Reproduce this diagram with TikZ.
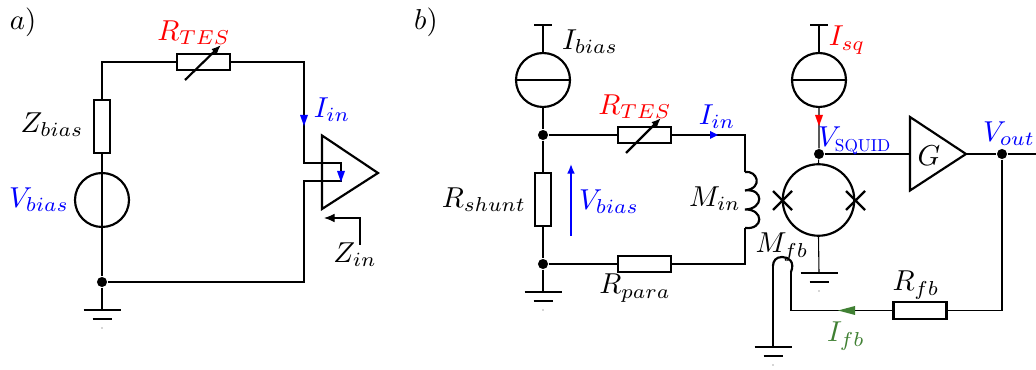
\documentclass[tikz,border=0pt]{standalone}
\usepackage{graphicx}
\usetikzlibrary{arrows.meta}
\definecolor{fbgreen}{rgb}{0.25,0.5,0.2}
\tikzset{
  x=0.4167pt,y=-0.4167pt,
  wire/.style={line width=0.45pt,line join=miter},
  comp/.style={line width=0.9pt},
  resbox/.style={draw,line width=0.9pt,fill=white,inner sep=0,minimum width=22.1pt,minimum height=7pt},
  vresbox/.style={draw,line width=0.9pt,inner sep=0,minimum width=7pt,minimum height=22.1pt},
  srccirc/.style={draw,line width=0.9pt,circle,inner sep=0,minimum size=22.5pt},
  squidcirc/.style={draw,line width=0.9pt,circle,inner sep=0,minimum size=29.8pt},
  junction/.style={circle,fill=black,inner sep=0,minimum size=4.2pt},
  gnd/.style={line width=0.9pt},
  lab/.style={inner sep=0,outer sep=0},
  tip/.style={-{Latex[length=4pt,width=3.2pt]}},
}
\newcommand{\tx}[1]{\scalebox{1.2}{$#1$}}
\newcommand{\gndsym}[2]{%
  \draw[gnd] (#1-18.5,#2) -- (#1+18.5,#2);
  \draw[gnd] (#1-9.5,#2+9) -- (#1+9.5,#2+9);
  \fill[black!70] (#1,#2+18) circle (0.25pt);
}
\begin{document}
\begin{tikzpicture}
\useasboundingbox (0,0) rectangle (1036,370);
% ---------- panel a
\node[lab] (la) at (23,22) {\tx{a)}};
\node[resbox] (rtesa) at (203.5,62) {};
\node[vresbox] (zb) at (102,126.5) {};
\node[srccirc] (vb) at (102,200) {};
\node[junction] (ja) at (102,282) {};
\coordinate (gnda) at (102,310);
\coordinate (tl) at (102,62);
\coordinate (tr) at (304,62);
\coordinate (br) at (304,282);
\coordinate (ampa1) at (322,135.5);
\coordinate (ampa2) at (322,209);
\coordinate (ampa3) at (378,173);
\draw[wire] (zb.north) -- (tl) -- (rtesa.west);
\draw[wire] (rtesa.east) -- (tr) -- (304,163) -- (341,163) -- (341,181) -- (304,181) -- (br) -- (ja);
\draw[wire] (zb.south) -- (vb.north);
\draw[wire] (vb.north) -- (vb.south);
\draw[wire] (vb.south) -- (ja) -- (gnda);
\gndsym{102}{310}
\draw[comp,line join=miter] (ampa1) -- (ampa3) -- (ampa2) -- cycle;
\draw[comp,tip] (185,80) -- (221,45);
\fill[blue] (300,115) -- (308,115) -- (304,126) -- cycle;
\fill[blue] (337,171) -- (345,171) -- (341,182) -- cycle;
\coordinate (zi1) at (360,245);
\coordinate (zi2) at (360,218);
\coordinate (zi3) at (324,218);
\draw[wire,-{Latex[length=4.4pt,width=3.6pt]}] (zi1) -- (zi2) -- (zi3);
\node[lab,red] (l1) at (194,33) {\tx{R_{TES}}};
\node[lab,blue] (l2) at (332,110) {\tx{I_{in}}};
\node[lab] (l3) at (52,125) {\tx{Z_{bias}}};
\node[lab,blue] (l4) at (39,200) {\tx{V_{bias}}};
\node[lab] (l5) at (355,255) {\tx{Z_{in}}};
% ---------- panel b
\node[lab] (lb) at (426,22) {\tx{b)}};
\node[srccirc] (ib) at (543,80) {};
\node[junction] (j1) at (543,135) {};
\node[junction] (j2) at (543,264) {};
\node[vresbox] (rs) at (543,199.5) {};
\node[resbox] (rtesb) at (644.5,135) {};
\node[resbox] (rp) at (644.5,264) {};
\coordinate (lt) at (745,172);
\coordinate (lb1) at (745,228);
\draw[wire] (543,25) -- (ib.north);
\draw[comp] (534,25) -- (552,25);
\draw[wire] (ib.west) -- (ib.east);
\draw[wire] (ib.south) -- (j1) -- (rs.north);
\draw[wire] (rs.south) -- (j2) -- (543,292);
\gndsym{543}{292}
\draw[wire] (j1) -- (rtesb.west);
\draw[wire] (rtesb.east) -- (745,135) -- (lt);
\draw[wire] (j2) -- (rp.west);
\draw[wire] (rp.east) -- (745,264) -- (lb1);
\draw[comp] (lt) .. controls (757,170) and (764,188) .. (745,190.5)
  .. controls (764,188) and (764,209) .. (745,209.5)
  .. controls (764,209) and (764,230) .. (lb1);
\draw[comp,tip] (626,153) -- (661,118);
\fill[blue] (710,131) -- (710,139) -- (718,135) -- cycle;
\draw[line width=0.6pt,blue,-{Latex[length=4pt,width=3.2pt]}] (571,236) -- (571,164);
% SQUID
\node[srccirc] (isq) at (819,80) {};
\node[junction] (j3) at (819,154) {};
\node[squidcirc] (sq) at (818.5,200) {};
\draw[wire] (819,25) -- (isq.north);
\draw[comp] (810,25) -- (828,25);
\draw[wire] (isq.west) -- (isq.east);
\draw[wire] (isq.south) -- (j3) -- (sq.north);
\fill[red] (815,115) -- (823,115) -- (819,126) -- cycle;
\draw[wire] (sq.south) -- (819,273);
\gndsym{819}{273}
\draw[comp] (773,191) -- (792,210) (773,210) -- (792,191);
\draw[comp] (846,191) -- (865,210) (846,210) -- (865,191);
% amp G
\coordinate (g1) at (910,117);
\coordinate (g2) at (910,190.5);
\coordinate (g3) at (966,154);
\draw[comp,line join=miter] (g1) -- (g3) -- (g2) -- cycle;
\node[junction] (j4) at (1002,154) {};
\node[resbox] (rf) at (920,310.5) {};
\coordinate (out) at (1036,154);
\draw[wire] (j3) -- (910,154);
\draw[wire] (g3) -- (j4) -- (out);
\draw[wire] (j4) -- (1002,310.5) -- (rf.east);
\draw[wire] (rf.west) -- (791,310.5) -- (791,272);
\draw[comp] (791,272) .. controls (795,262) and (789,257) .. (782,257)
  .. controls (776,257) and (773,261) .. (773,266);
\draw[wire] (773,266) -- (773,347);
\gndsym{773}{347}
\fill[fbgreen] (838,310.5) -- (855,306) -- (855,315) -- cycle;
\node[lab] (m1) at (590,42) {\tx{I_{bias}}};
\node[lab,red] (m2) at (635,107) {\tx{R_{TES}}};
\node[lab,blue] (m3) at (717,117) {\tx{I_{in}}};
\node[lab] (m4) at (484,200) {\tx{R_{shunt}}};
\node[lab,blue] (m5) at (609,202) {\tx{V_{bias}}};
\node[lab] (m6) at (715,199) {\tx{M_{in}}};
\node[lab] (m7) at (635,288) {\tx{R_{para}}};
\node[lab,red] (m8) at (847,40) {\tx{I_{sq}}};
\node[lab,blue] (m9) at (855,141) {\tx{V_{\scalebox{0.6}{$\mathrm{SQUID}$}}}};
\node[lab] (m10) at (929,156) {\tx{G}};
\node[lab,blue] (m11) at (1009,134) {\tx{V_{out}}};
\node[lab] (m12) at (782,247) {\tx{M_{fb}}};
\node[lab,fbgreen] (m13) at (846,336) {\tx{I_{fb}}};
\node[lab] (m14) at (916,285) {\tx{R_{fb}}};
\end{tikzpicture}
\end{document}
